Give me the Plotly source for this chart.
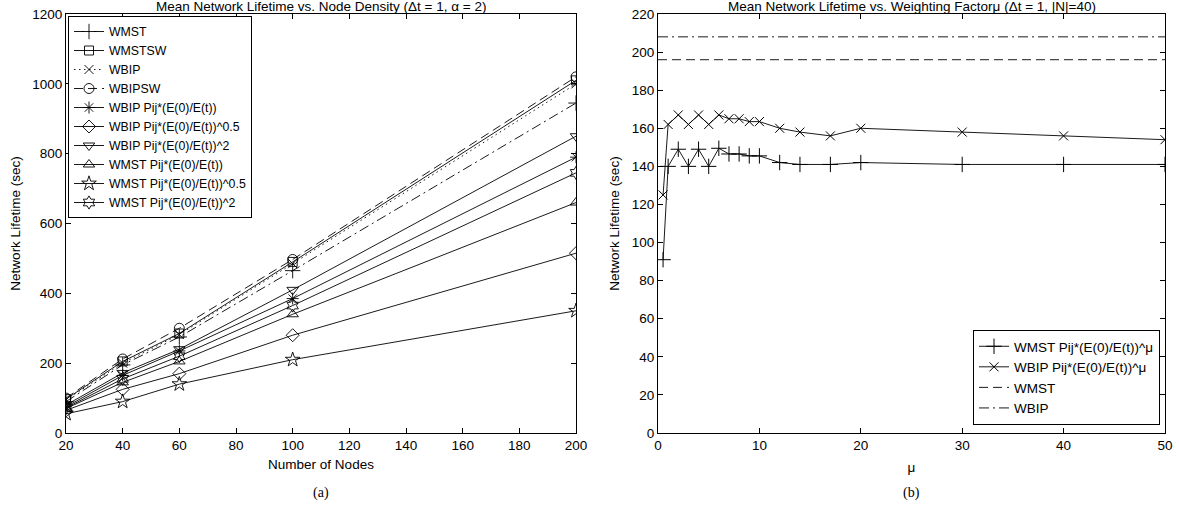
import plotly.graph_objects as go

# ---------- data: panel (a) ----------
nodes = [20, 40, 60, 100, 200]
wmst = [90, 195, 275, 465, 945]
wmstsw = [97, 205, 285, 490, 1010]
wbip = [95, 200, 282, 485, 1000]
wbipsw = [100, 212, 300, 497, 1020]
wbip_p1 = [75, 165, 235, 385, 790]
wbip_p05 = [65, 125, 170, 280, 515]
wbip_p2 = [80, 172, 240, 410, 850]
wmst_p1 = [70, 145, 205, 340, 660]
wmst_p05 = [55, 90, 140, 210, 350]
wmst_p2 = [72, 155, 220, 365, 745]

# ---------- data: panel (b) ----------
mu = [0.5, 1, 2, 3, 4, 5, 6, 7, 8, 9, 10, 12, 14, 17, 20, 30, 40, 50]
wmst_mu = [91, 140, 149, 140, 149, 140, 149.5, 146.5, 146.5, 145.5, 145.5, 142, 141, 141, 142, 141, 141, 141]
wbip_mu = [125, 162, 167, 162, 167, 162, 167, 165, 165, 163.5, 163.5, 160, 158, 156, 160, 158, 156, 154]
mu_range = [0, 50]
wmst_const = [196, 196]
wbip_const = [208, 208]

FONT = "Liberation Sans, Arial, sans-serif"
FS = 13.5
LW = 0.9
DASHDOT = "10px,4px,2px,4px"
DASH = "9px,5px"
DOT = "1.5px,3.5px"

fig = go.Figure()

def add_a(name, y, symbol, dash="solid", size=9):
    fig.add_trace(go.Scatter(
        x=nodes, y=y, name=name, mode="lines+markers",
        line=dict(color="black", width=LW, dash=dash),
        marker=dict(symbol=symbol, size=size, color="black",
                    line=dict(color="black", width=0.9)),
        xaxis="x", yaxis="y", legend="legend"))

add_a("WMST", wmst, "cross-thin-open", DASHDOT, 11)
add_a("WMSTSW", wmstsw, "square-open", "solid")
add_a("WBIP", wbip, "x-thin-open", DOT)
add_a("WBIPSW", wbipsw, "circle-open", DASH, 10)
add_a("WBIP Pij*(E(0)/E(t))", wbip_p1, "asterisk-open", "solid", 10)
add_a("WBIP Pij*(E(0)/E(t))^0.5", wbip_p05, "diamond-open", "solid", 10)
add_a("WBIP Pij*(E(0)/E(t))^2", wbip_p2, "triangle-down-open", "solid", 10)
add_a("WMST Pij*(E(0)/E(t))", wmst_p1, "triangle-up-open", "solid", 10)
add_a("WMST Pij*(E(0)/E(t))^0.5", wmst_p05, "star-open", "solid", 11)
add_a("WMST Pij*(E(0)/E(t))^2", wmst_p2, "hexagram-open", "solid", 10)

fig.add_trace(go.Scatter(
    x=mu, y=wmst_mu, name="WMST Pij*(E(0)/E(t))^μ", mode="lines+markers",
    line=dict(color="black", width=LW),
    marker=dict(symbol="cross-thin-open", size=11, color="black", line=dict(color="black", width=1)),
    xaxis="x2", yaxis="y2", legend="legend2"))
fig.add_trace(go.Scatter(
    x=mu, y=wbip_mu, name="WBIP Pij*(E(0)/E(t))^μ", mode="lines+markers",
    line=dict(color="black", width=LW),
    marker=dict(symbol="x-thin-open", size=9, color="black", line=dict(color="black", width=1)),
    xaxis="x2", yaxis="y2", legend="legend2"))
fig.add_trace(go.Scatter(
    x=mu_range, y=wmst_const, name="WMST", mode="lines",
    line=dict(color="black", width=LW, dash=DASH),
    xaxis="x2", yaxis="y2", legend="legend2"))
fig.add_trace(go.Scatter(
    x=mu_range, y=wbip_const, name="WBIP", mode="lines",
    line=dict(color="black", width=LW, dash=DASHDOT),
    xaxis="x2", yaxis="y2", legend="legend2"))

W, H = 1179, 506
ydom = [(H - 433) / H, (H - 14) / H]

axis_common = dict(
    showline=True, linecolor="black", linewidth=1, mirror="ticks",
    ticks="inside", ticklen=5, tickcolor="black", tickwidth=1,
    showgrid=False, zeroline=False, automargin=False,
    tickfont=dict(family=FONT, size=FS, color="black"),
)

fig.update_layout(
    template="none",
    width=W, height=H,
    margin=dict(l=0, r=0, t=0, b=0, autoexpand=False),
    paper_bgcolor="white", plot_bgcolor="white",
    font=dict(family=FONT, size=FS, color="black"),
    xaxis=dict(domain=[66 / W, 576 / W], range=[20, 200], dtick=20, anchor="y",
               title=dict(text="Number of Nodes", font=dict(size=FS), standoff=7),
               **axis_common),
    yaxis=dict(domain=ydom, range=[0, 1200], dtick=200, anchor="x",
               title=dict(text="Network Lifetime (sec)", font=dict(size=FS), standoff=8),
               **axis_common),
    xaxis2=dict(domain=[658 / W, 1165 / W], range=[0, 50], dtick=10, anchor="y2",
                title=dict(text="μ", font=dict(size=FS), standoff=10),
                **axis_common),
    yaxis2=dict(domain=ydom, range=[0, 220], dtick=20, anchor="x2",
                title=dict(text="Network Lifetime (sec)", font=dict(size=FS), standoff=9),
                **axis_common),
    showlegend=True,
    legend=dict(x=68 / W, y=(H - 16) / H, xanchor="left", yanchor="top",
                bordercolor="black", borderwidth=1, bgcolor="white",
                font=dict(family=FONT, size=12.3), tracegroupgap=0, itemwidth=30),
    legend2=dict(x=1160 / W, y=(H - 425) / H, xanchor="right", yanchor="bottom",
                 bordercolor="black", borderwidth=1, bgcolor="white",
                 font=dict(family=FONT, size=FS), tracegroupgap=0, itemwidth=30),
    annotations=[
        dict(text="Mean Network Lifetime vs. Node Density (Δt = 1, α = 2)",
             x=(66 + 576) / 2 / W, y=(H - 6) / H, xref="paper", yref="paper",
             xanchor="center", yanchor="middle", showarrow=False,
             font=dict(family=FONT, size=FS)),
        dict(text="Mean Network Lifetime vs. Weighting Factorμ (Δt = 1, |N|=40)",
             x=(658 + 1165) / 2 / W, y=(H - 6) / H, xref="paper", yref="paper",
             xanchor="center", yanchor="middle", showarrow=False,
             font=dict(family=FONT, size=FS)),
        dict(text="(a)", x=(66 + 576) / 2 / W, y=(H - 493) / H, xref="paper", yref="paper",
             xanchor="center", yanchor="middle", showarrow=False,
             font=dict(family="Liberation Serif, Times New Roman, serif", size=14)),
        dict(text="(b)", x=(658 + 1165) / 2 / W, y=(H - 493) / H, xref="paper", yref="paper",
             xanchor="center", yanchor="middle", showarrow=False,
             font=dict(family="Liberation Serif, Times New Roman, serif", size=14)),
    ],
)

fig.write_html("out.html",
               config={"displayModeBar": False},
               post_script="document.body.style.margin='0';document.body.style.overflow='hidden';")
